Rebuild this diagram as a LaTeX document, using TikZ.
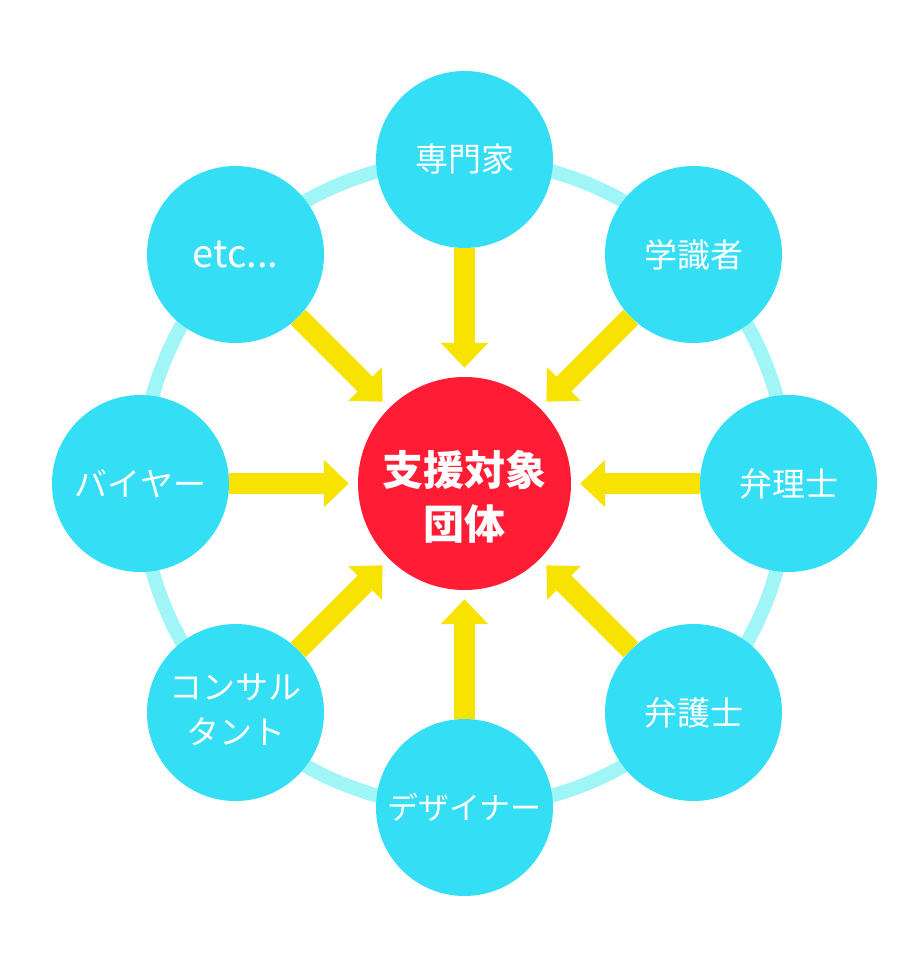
\documentclass[tikz,border=0pt]{standalone}
\usepackage{fontspec}
\setmainfont{Noto Sans CJK JP}
\usetikzlibrary{arrows.meta}
\definecolor{cyanc}{RGB}{52,222,245}
\definecolor{ringc}{RGB}{160,245,247}
\definecolor{yellowc}{RGB}{247,226,0}
\definecolor{redc}{RGB}{255,28,52}
\tikzset{
  outer/.style={circle, fill=cyanc, inner sep=0pt, minimum size=177pt, text=white,
    font=\fontsize{33}{45}\selectfont, align=center},
  hub/.style={circle, fill=redc, inner sep=0pt, minimum size=213pt, text=white,
    font=\fontsize{41}{54}\selectfont\bfseries},
  ring/.style={draw=ringc, line width=14pt},
  arr/.style={draw=yellowc, line width=21pt, shorten >=9pt,
    -{Triangle[width=46pt,length=25pt,fill=yellowc]}}
}
\begin{document}
\begin{tikzpicture}[x=1pt,y=-1pt]
\useasboundingbox[fill=white] (0,0) rectangle (920,956);
\coordinate (o) at (464.5,483.5);
\draw[ring] (o) circle[radius=324pt];
\node[hub] (c) at (o) {\raisebox{-24pt}[0pt][0pt]{\begin{tabular}{@{}c@{}}支援対象\\団体\end{tabular}}};
\node[outer] (n1) at (464.5,159.5) {専門家};
\node[outer] (n2) at (693.5,254.5) {学識者};
\node[outer] (n3) at (788.5,483.5) {弁理士};
\node[outer] (n4) at (693.5,712.5) {弁護士};
\node[outer, font=\fontsize{31}{45}\selectfont] (n5) at (464.5,807.5) {デザイナー};
\node[outer] (n6) at (235.5,712.5) {\raisebox{-7pt}[0pt][0pt]{\begin{tabular}{@{}c@{}}コンサル\\タント\end{tabular}}};
\node[outer] (n7) at (140.5,483.5) {バイヤー};
\node[outer, font=\fontsize{38}{45}\selectfont] (n8) at (235.5,254.5) {etc...};
\foreach \n in {n1,n2,n3,n4,n5,n6,n7,n8}
  \draw[arr] (\n) -- (c);
\end{tikzpicture}
\end{document}
